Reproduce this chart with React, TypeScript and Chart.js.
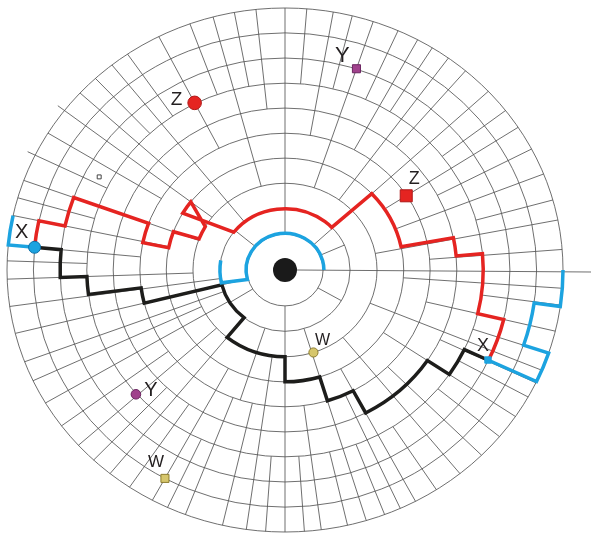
import React, { useEffect, useRef } from "react";
import { Chart, registerables } from "chart.js";
Chart.register(...registerables);

// ---- polar grid (normalised radius; outer ring = 1) ----
const ringRadii = [0.137, 0.234, 0.331, 0.427, 0.522, 0.618, 0.713, 0.809, 0.905, 1.0];

// spokes: [angle deg, from ring index, to ring index]
const spokes: [number, number, number][] = [
  [4.5, 4, 9], [11, 2, 9], [15.5, 6, 9], [21.5, 3, 9], [24, 0, 1], [27.5, 5, 9], [33, 3, 9], [37.5, 6, 9],
  [43, 0, 9], [49.5, 5, 9], [54, 2, 9], [58, 6, 9], [61.5, 4, 9], [66, 6, 9], [71.5, 2, 9], [76, 6, 9],
  [80, 4, 9], [85.5, 6, 9], [90, 0, 9],
  [96, 5, 9], [100.5, 6, 9], [105, 2, 9], [110, 6, 9], [117, 4, 9], [124.5, 6, 9], [128.5, 1, 9],
  [133, 6, 9], [137.5, 4, 9], [140, 0, 1], [142.5, 2, 9], [148.5, 4, 9], [154, 6, 9], [160, 2, 9],
  [164, 6, 9], [168, 3, 9], [174.5, 4, 9], [178, 6, 9],
  [182, 2, 9], [188, 1, 9], [194, 0, 9], [200.5, 1, 9], [205, 2, 9], [210.5, 1, 9], [212, 0, 1],
  [216.5, 4, 9], [222, 2, 9], [226.5, 5, 9], [231, 1, 9], [236, 5, 9], [241.5, 3, 9], [245, 6, 9],
  [249, 4, 9], [252, 1, 4], [257, 4, 9], [262, 2, 9], [266, 6, 9], [270, 0, 9],
  [274, 6, 9], [277.5, 4, 9], [283, 6, 9], [287, 1, 9], [291, 6, 9], [294.5, 4, 9], [298, 3, 9],
  [303, 6, 9], [309, 2, 9], [315, 4, 9], [320.5, 6, 9], [326, 3, 9], [330, 0, 1], [331, 6, 9],
  [334.5, 5, 9], [337.5, 2, 9], [341.5, 6, 9], [346.5, 4, 9], [352.3, 6, 9], [356, 3, 9],
];
// spokes that poke slightly past the outer ring
const tickAngles = [142.5, 154];

// ---- paths (angle deg, radius) ----
const redAngles = [174.5, 168, 168, 160, 160, 168.5, 168.5, 160, 159, 150, 142.5, 149.5, 142, 44, 43, 12, 11.5, 5, 5, -13.5, -13.5, -25.2];
const redRadii = [0.905, 0.905, 0.809, 0.809, 0.522, 0.522, 0.427, 0.427, 0.331, 0.331, 0.427, 0.427, 0.234, 0.234, 0.427, 0.427, 0.618, 0.618, 0.713, 0.713, 0.809, 0.809];

const blackAngles = [174.5, 174.5, 182, 182, 187.5, 187.5, 194, 194, 231, 231, 270, 270, 287, 287, 298, 298, 326, 326, 334.8, 334.8];
const blackRadii = [0.905, 0.809, 0.809, 0.713, 0.713, 0.522, 0.522, 0.234, 0.234, 0.331, 0.331, 0.427, 0.427, 0.522, 0.522, 0.618, 0.618, 0.713, 0.713, 0.809];

const blueLeftAngles = [174.5, 174.5, 168];
const blueLeftRadii = [0.905, 1.0, 1.0];

const blueCenterAngles = [171, 192, 195, 0];
const blueCenterRadii = [0.234, 0.234, 0.14, 0.14];

const blueRightAngles = [-25.2, -25.2, -18.5, -18.5, -8, -8, 0];
const blueRightRadii = [0.809, 1.0, 1.0, 0.905, 0.905, 1.0, 1.0];

// ---- markers ----
const markerNames = ["X", "X", "Y", "Y", "Z", "Z", "W", "W", ""];
const markerAngles = [174.5, 334.8, 71.5, 221.5, 117, 33, 241.5, 288, 152];
const markerRadii = [0.905, 0.807, 0.81, 0.716, 0.716, 0.52, 0.905, 0.331, 0.757];

// styles
const RED = "#e52421";
const BLUE = "#1ca3e0";
const BLACK = "#1d1d1b";
const PURPLE = "#a0418c";
const KHAKI = "#d6c66c";
const markerStyle = ["circle", "rect", "rect", "circle", "circle", "rect", "rect", "circle", "rect"];
const markerSize = [6, 4.5, 5.7, 4.8, 6.8, 8.5, 5.7, 4.6, 2.8];
const markerFill = [BLUE, BLUE, PURPLE, PURPLE, RED, RED, KHAKI, KHAKI, "#ffffff"];
const markerBorder = ["#0b6ea6", BLUE, "#6b2460", "#6b2460", "#b01818", "#b01818", "#8d7d2f", "#8d7d2f", "#444444"];
const labelOffsets: [number, number][] = [[-13, -15], [-5, -14], [-14, -13], [15, -4], [-18, -3], [8, -17], [-9, -16], [9, -12], [0, 0]];
const labelSizes = [20, 18, 22, 20, 19, 18, 17, 16, 0];

const X_MIN = -285 / 278, X_MAX = 306 / 278, Y_MAX = 270 / 262, Y_MIN = -264 / 262;

const toXY = (a: number, r: number) => {
  const t = (a * Math.PI) / 180;
  return { x: r * Math.cos(t), y: r * Math.sin(t) };
};

const polarPlugin = {
  id: "polarGrid",
  beforeDatasetsDraw(chart: any) {
    const ctx = chart.ctx as CanvasRenderingContext2D;
    const xs = chart.scales.x, ys = chart.scales.y;
    const cx = xs.getPixelForValue(0), cy = ys.getPixelForValue(0);
    const Rx = xs.getPixelForValue(1) - cx, Ry = cy - ys.getPixelForValue(1);
    const pt = (a: number, r: number) => {
      const p = toXY(a, r);
      return [xs.getPixelForValue(p.x), ys.getPixelForValue(p.y)];
    };
    ctx.save();
    ctx.strokeStyle = "#555555";
    ctx.lineWidth = 0.85;
    ringRadii.forEach((r) => {
      ctx.beginPath();
      ctx.ellipse(cx, cy, Rx * r, Ry * r, 0, 0, Math.PI * 2);
      ctx.stroke();
    });
    spokes.forEach(([a, i, j]) => {
      const p = pt(a, ringRadii[i]);
      const q = pt(a, ringRadii[j]);
      ctx.beginPath();
      ctx.moveTo(p[0], p[1]);
      ctx.lineTo(q[0], q[1]);
      ctx.stroke();
    });
    tickAngles.forEach((a) => {
      const p = pt(a, 1.0);
      const q = pt(a, 1.03);
      ctx.beginPath();
      ctx.moveTo(p[0], p[1]);
      ctx.lineTo(q[0], q[1]);
      ctx.stroke();
    });
    const s = pt(0, 0.04);
    ctx.beginPath();
    ctx.moveTo(s[0], s[1]);
    ctx.lineTo(chart.width, cy + 2);
    ctx.stroke();

    const drawPath = (angles: number[], radii: number[], color: string) => {
      ctx.beginPath();
      const p0 = pt(angles[0], radii[0]);
      ctx.moveTo(p0[0], p0[1]);
      for (let i = 1; i < angles.length; i++) {
        const a1 = angles[i - 1], a2 = angles[i], r1 = radii[i - 1], r2 = radii[i];
        if (Math.abs(r1 - r2) < 0.004 && a1 !== a2) {
          ctx.ellipse(cx, cy, Rx * r2, Ry * r2, 0, (-a1 * Math.PI) / 180, (-a2 * Math.PI) / 180, a2 > a1);
        } else {
          const p = pt(a2, r2);
          ctx.lineTo(p[0], p[1]);
        }
      }
      ctx.strokeStyle = color;
      ctx.lineWidth = 3.5;
      ctx.lineJoin = "miter";
      ctx.lineCap = "butt";
      ctx.stroke();
    };
    drawPath(redAngles, redRadii, RED);
    drawPath(blackAngles, blackRadii, BLACK);
    drawPath(blueLeftAngles, blueLeftRadii, BLUE);
    drawPath(blueCenterAngles, blueCenterRadii, BLUE);
    drawPath(blueRightAngles, blueRightRadii, BLUE);
    ctx.restore();
  },
  afterDatasetsDraw(chart: any) {
    const ctx = chart.ctx as CanvasRenderingContext2D;
    const xs = chart.scales.x, ys = chart.scales.y;
    ctx.save();
    ctx.fillStyle = "#231f20";
    ctx.textAlign = "center";
    ctx.textBaseline = "middle";
    markerNames.forEach((name, i) => {
      if (!name) return;
      const p = toXY(markerAngles[i], markerRadii[i]);
      const px = xs.getPixelForValue(p.x) + labelOffsets[i][0];
      const py = ys.getPixelForValue(p.y) + labelOffsets[i][1];
      ctx.font = `${labelSizes[i]}px "Liberation Sans", Arial, sans-serif`;
      ctx.fillText(name, px, py);
    });
    ctx.restore();
  },
};

export default function App() {
  const ref = useRef<HTMLCanvasElement>(null);
  useEffect(() => {
    document.body.style.margin = "0";
    const chart = new Chart(ref.current as HTMLCanvasElement, {
      type: "scatter",
      data: {
        datasets: [
          {
            label: "hub",
            data: [{ x: 0, y: 0 }],
            pointRadius: 12,
            pointBackgroundColor: "#1a1a1a",
            pointBorderColor: "#1a1a1a",
            pointBorderWidth: 0,
          },
          {
            label: "markers",
            data: markerAngles.map((a, i) => toXY(a, markerRadii[i])),
            pointStyle: markerStyle as any,
            pointRadius: markerSize,
            pointBackgroundColor: markerFill,
            pointBorderColor: markerBorder,
            pointBorderWidth: 1,
          },
        ],
      },
      options: {
        responsive: false,
        maintainAspectRatio: false,
        animation: false,
        events: [],
        layout: { padding: 0, autoPadding: false },
        plugins: { legend: { display: false }, tooltip: { enabled: false } },
        scales: {
          x: { type: "linear", display: false, min: X_MIN, max: X_MAX },
          y: { type: "linear", display: false, min: Y_MIN, max: Y_MAX },
        },
      },
      plugins: [polarPlugin],
    });
    return () => chart.destroy();
  }, []);
  return (
    <div style={{ position: "absolute", left: 0, top: 0, width: 591, height: 534, background: "#ffffff" }}>
      <canvas ref={ref} width={591} height={534} style={{ width: 591, height: 534, display: "block" }} />
    </div>
  );
}
